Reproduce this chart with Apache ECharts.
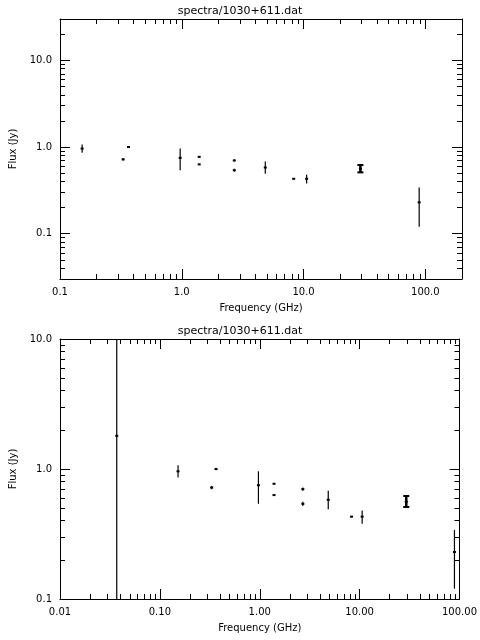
<!DOCTYPE html>
<html>
<head>
<meta charset="utf-8">
<script src="https://cdn.jsdelivr.net/npm/echarts@6/dist/echarts.min.js"></script>
<style>html,body{margin:0;background:#fff}#c{width:480px;height:640px}</style>
</head>
<body>
<div id="c"></div>
<script>
// measurements: frequency (GHz), flux (Jy), error bar low / high
var freq = [0.037, 0.152, 0.33, 0.365, 0.97, 1.39, 1.39, 2.7, 2.7, 4.85, 8.3, 10.6, 29.3, 89];
var flux = [1.8, 0.96, 0.72, 1.0, 0.75, 0.77, 0.63, 0.70, 0.54, 0.58, 0.43, 0.43, 0.56, 0.23];
var errLo = [0.01, 0.86, 0.70, 0.98, 0.54, 0.76, 0.62, 0.68, 0.52, 0.49, 0.425, 0.38, 0.51, 0.12];
var errHi = [100, 1.07, 0.74, 1.02, 0.96, 0.78, 0.64, 0.72, 0.56, 0.68, 0.435, 0.48, 0.62, 0.34];
var capped = [0, 0, 0, 0, 0, 0, 0, 0, 0, 0, 0, 0, 1, 0];

var topXTicks = [0.1, 1, 10, 100];
var topYTicks = [0.1, 1, 10];
var botXTicks = [0.01, 0.1, 1, 10, 100];
var botYTicks = [0.1, 1, 10];

function minors(lo, hi) {
    var out = [];
    for (var d = Math.floor(Math.log10(lo)); d <= Math.ceil(Math.log10(hi)); d++) {
        for (var k = 2; k <= 9; k++) {
            var v = k * Math.pow(10, d);
            if (v > lo * 1.0001 && v < hi * 0.9999) out.push(+v.toPrecision(3));
        }
    }
    return out;
}

var font = 'DejaVu Sans';
var grids = [
    { left: 60, right: 18, top: 19, height: 260 },
    { left: 60, right: 18, top: 339, height: 260 }
];
var xAxes = [], yAxes = [];

function addAxes(list, gi, dim, lo, hi, majors, fmt) {
    var pos = dim === 'x' ? ['bottom', 'top'] : ['left', 'right'];
    pos.forEach(function (p, i) {
        [0, 1].forEach(function (m) {
            list.push({
                type: 'log', gridIndex: gi, min: lo, max: hi, position: p,
                axisLine: { show: m === 0, lineStyle: { color: '#000', width: 1 } },
                splitLine: { show: false },
                axisTick: { show: true, inside: true, length: m === 0 ? 10 : 5,
                    customValues: m === 0 ? majors : minors(lo, hi),
                    lineStyle: { color: '#000' } },
                axisLabel: { show: i === 0 && m === 0, customValues: majors,
                    formatter: fmt, color: '#000', fontFamily: font, fontSize: 10, margin: 8 },
                name: i === 0 && m === 0 ? (dim === 'x' ? 'Frequency (GHz)' : 'Flux (Jy)') : '',
                nameLocation: 'middle', nameGap: dim === 'x' ? 24 : 38,
                nameTextStyle: { color: '#000', fontFamily: font, fontSize: 10 }
            });
        });
    });
}
addAxes(xAxes, 0, 'x', 0.1, 200, topXTicks, function (v) { return v.toFixed(1); });
addAxes(yAxes, 0, 'y', 0.03, 30, topYTicks, function (v) { return v.toFixed(1); });
addAxes(xAxes, 1, 'x', 0.01, 100, botXTicks, function (v) { return v.toFixed(2); });
addAxes(yAxes, 1, 'y', 0.1, 10, botYTicks, function (v) { return v.toFixed(1); });

var pts = freq.map(function (f, i) { return [f, flux[i], errLo[i], errHi[i], capped[i]]; });

function renderErr(params, api) {
    var c = api.coord([api.value(0), api.value(1)]);
    var lo = api.coord([api.value(0), api.value(2)]);
    var hi = api.coord([api.value(0), api.value(3)]);
    var s = { stroke: '#000', lineWidth: 1.2 };
    var kids = [
        { type: 'line', shape: { x1: c[0], y1: lo[1], x2: c[0], y2: hi[1] }, style: s },
        { type: 'rect', shape: { x: c[0] - 1.5, y: c[1] - 1, width: 3, height: 2 }, style: { fill: '#000' } }
    ];
    if (api.value(4)) {
        kids.push({ type: 'line', shape: { x1: c[0] - 3, y1: lo[1], x2: c[0] + 3, y2: lo[1] }, style: { stroke: '#000', lineWidth: 2 } });
        kids.push({ type: 'line', shape: { x1: c[0] - 3, y1: hi[1], x2: c[0] + 3, y2: hi[1] }, style: { stroke: '#000', lineWidth: 2 } });
        kids.push({ type: 'line', shape: { x1: c[0], y1: lo[1], x2: c[0], y2: hi[1] }, style: { stroke: '#000', lineWidth: 2.5 } });
    }
    return { type: 'group', children: kids };
}

var chart = echarts.init(document.getElementById('c'));
chart.setOption({
    animation: false,
    backgroundColor: '#fff',
    title: [
        { text: 'spectra/1030+611.dat', left: 'center', top: 1, textStyle: { fontFamily: font, fontSize: 11, fontWeight: 'normal', color: '#000' } },
        { text: 'spectra/1030+611.dat', left: 'center', top: 321, textStyle: { fontFamily: font, fontSize: 11, fontWeight: 'normal', color: '#000' } }
    ],
    grid: grids,
    xAxis: xAxes,
    yAxis: yAxes,
    series: [
        { type: 'custom', xAxisIndex: 0, yAxisIndex: 0, clip: true, renderItem: renderErr, data: pts },
        { type: 'custom', xAxisIndex: 4, yAxisIndex: 4, clip: true, renderItem: renderErr, data: pts }
    ]
});
</script>
</body>
</html>
